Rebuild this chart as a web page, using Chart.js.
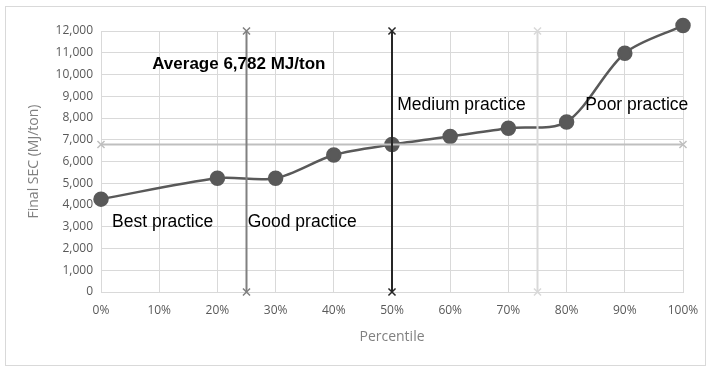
<!DOCTYPE html>
<html>
<head>
<meta charset="utf-8">
<script src="https://cdn.jsdelivr.net/npm/chart.js@4"></script>
<style>
  html, body { margin: 0; padding: 0; background: #fff; }
  #wrap { position: relative; width: 715px; height: 373px; }
  #frame { position: absolute; left: 5px; top: 6px; width: 699px; height: 358px; border: 1px solid #d9d9d9; }
  canvas { position: absolute; left: 0; top: 0; }
</style>
</head>
<body>
<div id="wrap">
  <div id="frame"></div>
  <canvas id="chart" width="715" height="373"></canvas>
</div>
<script>
// Data
const percentiles = [0, 20, 30, 40, 50, 60, 70, 80, 90, 100]
const secValues = [4270, 5230, 5230, 6300, 6782, 7150, 7530, 7820, 10980, 12250]
const averageSec = 6782
const quartiles = [25, 50, 75]
const quartileColors = ["#808080", "#262626", "#d9d9d9"]
const yMin = 0
const yMax = 12000

// Text labels drawn on the plot (data coordinates)
const notes = [
  { text: "Average 6,782 MJ/ton", x: 8.8, y: 10480, bold: true, size: 17 },
  { text: "Best practice", x: 1.9, y: 3220, bold: false, size: 17.5 },
  { text: "Good practice", x: 25.2, y: 3220, bold: false, size: 17.5 },
  { text: "Medium practice", x: 50.9, y: 8600, bold: false, size: 17.5 },
  { text: "Poor practice", x: 83.2, y: 8600, bold: false, size: 17.5 },
]

const notesPlugin = {
  id: "notes",
  afterDatasetsDraw(chart) {
    const ctx = chart.ctx
    const xs = chart.scales.x
    const ys = chart.scales.y
    ctx.save()
    ctx.fillStyle = "#000"
    ctx.textBaseline = "middle"
    ctx.textAlign = "left"
    notes.forEach((n) => {
      ctx.font = (n.bold ? "bold " : "") + n.size + "px 'Liberation Sans', Arial, sans-serif"
      ctx.fillText(n.text, xs.getPixelForValue(n.x), ys.getPixelForValue(n.y))
    })
    ctx.restore()
  },
}

// Reference lines
const lineSets = quartiles.map((q, i) => ({
  data: [{ x: q, y: yMin }, { x: q, y: yMax }],
  borderColor: quartileColors[i],
  borderWidth: 2,
  pointStyle: "crossRot",
  pointRadius: 5,
  pointBorderColor: quartileColors[i],
  pointBorderWidth: 1.5,
  tension: 0,
  order: 1,
}))

lineSets.push({
  data: [{ x: 0, y: averageSec }, { x: 100, y: averageSec }],
  borderColor: "#bfbfbf",
  borderWidth: 2,
  pointStyle: "crossRot",
  pointRadius: 5,
  pointBorderColor: "#bfbfbf",
  pointBorderWidth: 1.5,
  tension: 0,
  order: 2,
})

const curveSet = {
  data: percentiles.map((p, i) => ({ x: p, y: secValues[i] })),
  borderColor: "#595959",
  borderWidth: 2.5,
  backgroundColor: "#595959",
  pointRadius: 6.5,
  pointBackgroundColor: "#595959",
  pointBorderColor: "#595959",
  tension: 0.3,
  order: 3,
}

const tickFont = { family: "'Open Sans', sans-serif", size: 12 }
const titleFont = { family: "'Open Sans', sans-serif", size: 14 }
const gridColor = "#d9d9d9"

new Chart(document.getElementById("chart").getContext("2d"), {
  type: "line",
  data: { datasets: [...lineSets, curveSet] },
  options: {
    responsive: false,
    animation: false,
    clip: false,
    layout: { padding: { left: 10, right: 32, top: 31, bottom: 28 } },
    plugins: { legend: { display: false }, tooltip: { enabled: false } },
    scales: {
      x: {
        type: "linear",
        min: 0,
        max: 100,
        ticks: {
          stepSize: 10,
          color: "#595959",
          font: tickFont,
          padding: 11,
          callback: (v) => v + "%",
        },
        grid: { color: gridColor, lineWidth: 1, drawTicks: false },
        border: { color: gridColor },
        title: {
          display: true,
          text: "Percentile",
          color: "#808080",
          font: titleFont,
          padding: { top: 4, bottom: 0 },
        },
        afterFit: (scale) => { scale.height = 53 },
      },
      y: {
        min: yMin,
        max: yMax,
        ticks: {
          stepSize: 1000,
          color: "#595959",
          font: tickFont,
          padding: 8,
          callback: (v) => v.toLocaleString("en-US"),
        },
        grid: { color: gridColor, lineWidth: 1, drawTicks: false },
        border: { color: gridColor },
        title: {
          display: true,
          text: "Final SEC (MJ/ton)",
          color: "#808080",
          font: titleFont,
          padding: { top: 16, bottom: 0 },
        },
        afterFit: (scale) => { scale.width = 91 },
      },
    },
  },
  plugins: [notesPlugin],
})
</script>
</body>
</html>
